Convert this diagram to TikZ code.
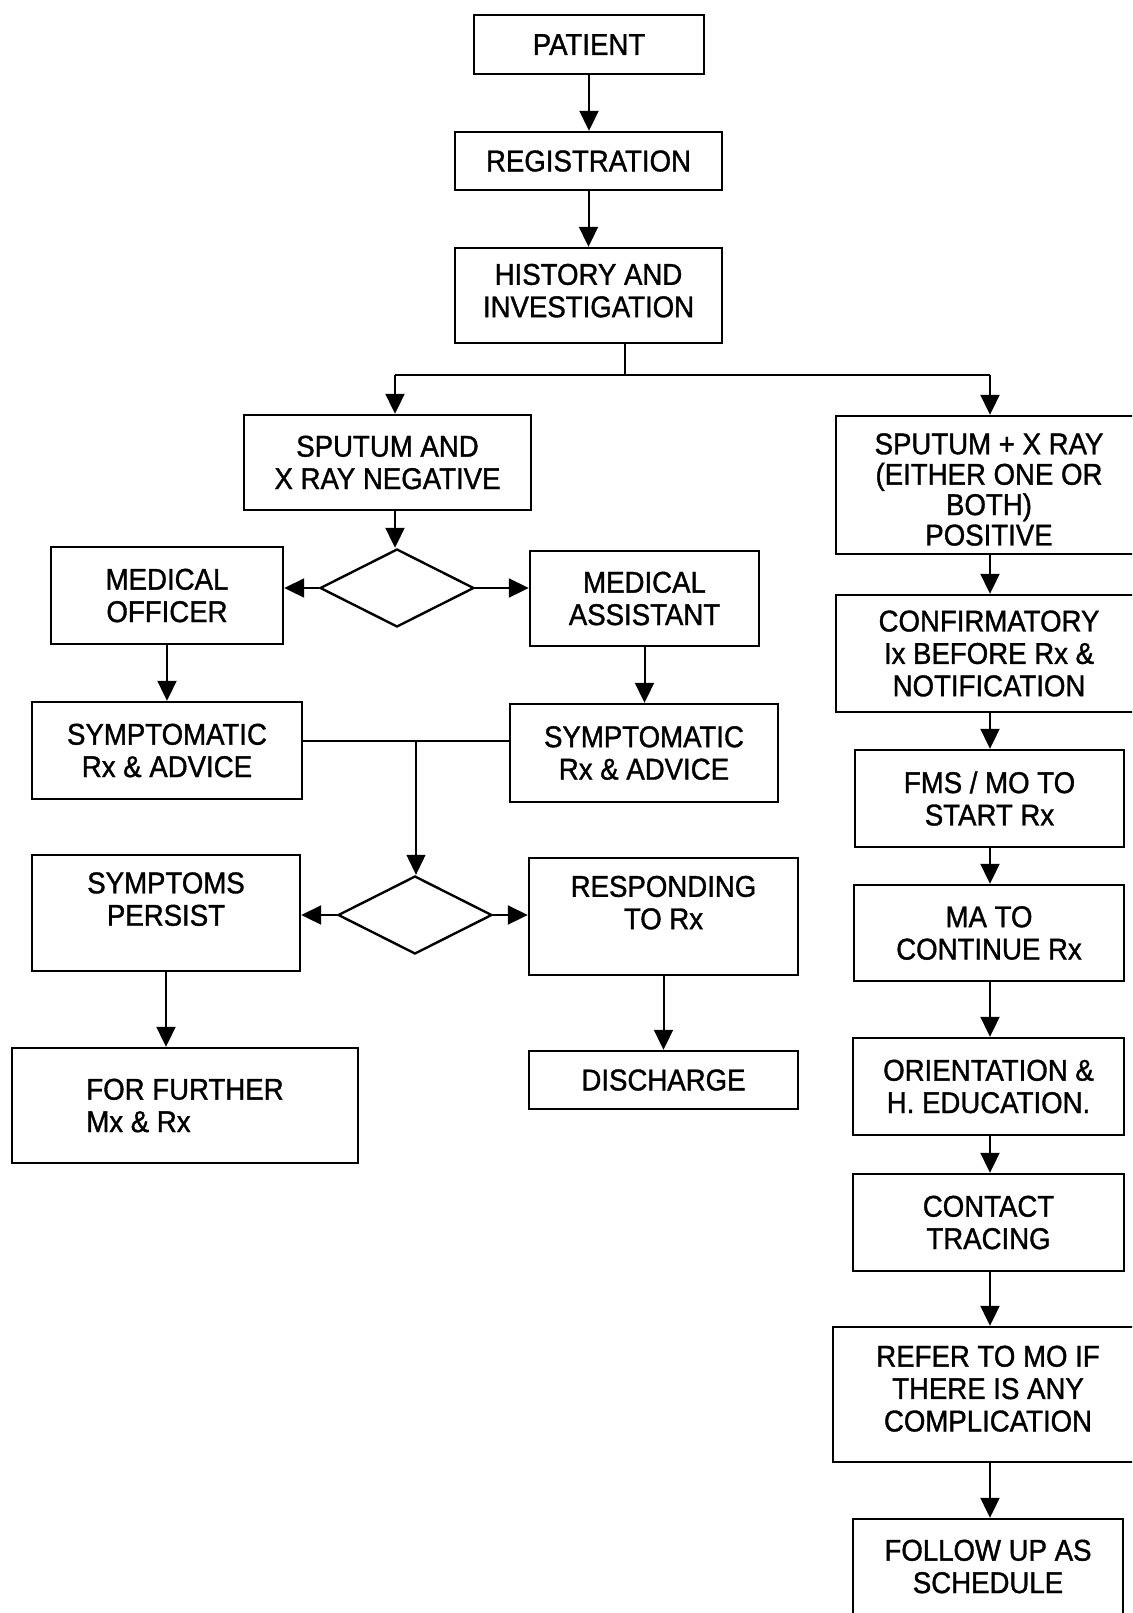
\documentclass[tikz,border=0pt]{standalone}
\usepackage{fontspec}
\setmainfont{Liberation Sans}[FakeStretch=0.92,FakeBold=1.2]
\usetikzlibrary{arrows.meta,shapes.geometric}

% box given by its corners (x1,y1)-(x2,y2) in pixel units
\newcommand{\flowbox}[7][]{%
  \node[box,#1,minimum width={(#5-#3)*0.5pt},minimum height={(#6-#4)*0.5pt}]
    (#2) at ({(#3+#5)/2},{(#4+#6)/2}) {#7};}
% invisible struts that lift or drop a text block inside its box
\newcommand{\liftby}[1]{\rule[-#1]{0pt}{#1}}
\newcommand{\dropby}[1]{\rule{0pt}{\dimexpr 11pt+#1\relax}}

\begin{document}
\begin{tikzpicture}[x=0.5pt,y=-0.5pt,
  box/.style={draw,line width=1.2pt,inner sep=0pt,align=center,
    font=\fontsize{15}{16.2}\selectfont},
  tight/.style={font=\fontsize{15}{15.2}\selectfont},
  choice/.style={draw,diamond,line width=1.2pt,inner sep=0pt,
    minimum width=77pt,minimum height=39pt},
  link/.style={line width=1pt},
  arr/.style={line width=1pt,-{Triangle[length=10pt,width=9.5pt]}}]
\useasboundingbox (0,0) rectangle (1132,1613);
\clip (0,0) rectangle (1132,1613);

% main trunk
\flowbox{patient}{474}{15}{704}{74}{PATIENT}
\flowbox{reg}{455}{132}{722}{190}{REGISTRATION}
\flowbox{hist}{455}{248}{722}{343}{HISTORY AND\\INVESTIGATION\liftby{5pt}}

% negative branch
\flowbox{neg}{244}{415}{531}{510}{SPUTUM AND\\X RAY NEGATIVE}
\node[choice] (d1) at (397,588) {};
\flowbox{mo}{51}{547}{283}{644}{MEDICAL\\OFFICER}
\flowbox{ma}{530}{551}{759}{646}{MEDICAL\\ASSISTANT}
\flowbox{sl}{32}{702}{302}{799}{SYMPTOMATIC\\Rx \& ADVICE}
\flowbox{sr}{510}{704}{778}{802}{SYMPTOMATIC\\Rx \& ADVICE}
\node[choice] (d2) at (415,915) {};
\flowbox{sp}{32}{855}{300}{971}{SYMPTOMS\\PERSIST\liftby{14pt}}
\flowbox{resp}{529}{858}{798}{975}{RESPONDING\\TO Rx\liftby{14pt}}
\flowbox[align=left]{further}{12}{1048}{358}{1163}{FOR FURTHER\\Mx \& Rx}
\flowbox{dis}{529}{1051}{798}{1109}{DISCHARGE}

% positive branch
\flowbox[tight]{pos}{836}{416}{1142}{554}{\dropby{4pt}SPUTUM + X RAY\\(EITHER ONE OR\\BOTH)\\POSITIVE}
\flowbox{conf}{836}{595}{1142}{712}{CONFIRMATORY\\Ix BEFORE Rx \&\\NOTIFICATION}
\flowbox{fms}{855}{750}{1124}{847}{FMS / MO TO\\START Rx}
\flowbox{mato}{854}{885}{1124}{981}{MA TO\\CONTINUE Rx}
\flowbox{orient}{853}{1038}{1124}{1135}{ORIENTATION \&\\H. EDUCATION.}
\flowbox{contact}{853}{1174}{1124}{1271}{CONTACT\\TRACING}
\flowbox{refer}{833}{1327}{1143}{1462}{REFER TO MO IF\\THERE IS ANY\\COMPLICATION\liftby{6pt}}
\flowbox{follow}{853}{1519}{1123}{1614}{FOLLOW UP AS\\SCHEDULE}

% connectors
\draw[arr] (patient.south) -- (patient.south |- reg.north);
\draw[arr] (reg.south) -- (reg.south |- hist.north);

\coordinate (bus) at (625,375);
\coordinate (busL) at (395,375);
\coordinate (busR) at (990,375);
\draw[link] (hist.south -| bus) -- (bus);
\draw[link] (busL) -- (busR);
\draw[arr] (busL) -- (busL |- neg.north);
\draw[arr] (busR) -- (busR |- pos.north);

\draw[arr] (busL |- neg.south) -- (busL |- d1.north);
\draw[arr] (d1.west) -- (mo.east |- d1.west);
\draw[arr] (d1.east) -- (ma.west |- d1.east);
\draw[arr] (mo.south) -- (mo.south |- sl.north);
\draw[arr] (ma.south) -- (ma.south |- sr.north);

\coordinate (join) at (416,741);
\draw[link] (sl.east |- join) -- (sr.west |- join);
\draw[line width=0.6pt,-{Triangle[length=10pt,width=9.5pt]}] (join) -- (join |- d2.north);
\draw[arr] (d2.west) -- (sp.east |- d2.west);
\draw[arr] (d2.east) -- (resp.west |- d2.east);
\draw[arr] (sp.south) -- (sp.south |- further.north);
\draw[arr] (resp.south) -- (resp.south |- dis.north);

\draw[arr] (pos.south -| busR) -- (busR |- conf.north);
\draw[arr] (conf.south -| busR) -- (busR |- fms.north);
\draw[arr] (fms.south -| busR) -- (busR |- mato.north);
\draw[arr] (mato.south -| busR) -- (busR |- orient.north);
\draw[arr] (orient.south -| busR) -- (busR |- contact.north);
\draw[arr] (contact.south -| busR) -- (busR |- refer.north);
\draw[arr] (refer.south -| busR) -- (busR |- follow.north);
\end{tikzpicture}
\end{document}
